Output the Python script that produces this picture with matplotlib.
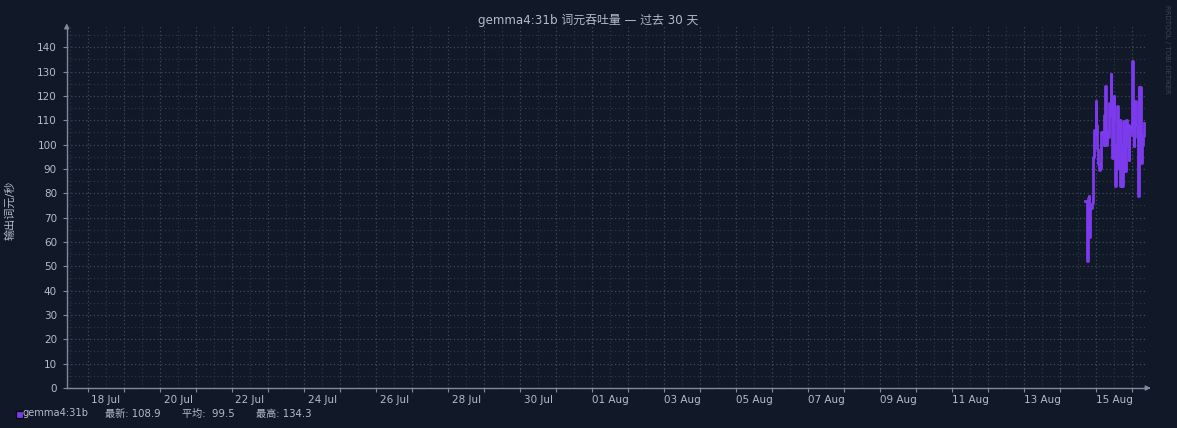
import matplotlib
matplotlib.use("Agg")
import matplotlib.pyplot as plt
import matplotlib.dates as mdates
from matplotlib.ticker import FuncFormatter, MultipleLocator
from matplotlib.patches import Rectangle
import datetime as dt

# ---------------- data ----------------
title = "gemma4:31b 词元吞吐量 — 过去 30 天"
ylabel = "输出词元/秒"
series_name = "gemma4:31b"
stat_labels = ["最新:", "平均:", "最高:"]
stat_values = ["108.9", "99.5", "134.3"]

# hours after 14 Aug 00:00
hours = [16.4, 17.1, 17.8, 18.2, 18.9, 19.3, 19.8, 20.7, 21.3, 21.8, 22.2, 22.9, 23.6,
         24.0, 24.4, 25.1, 25.8, 26.4, 27.1, 27.8, 28.4, 28.9, 29.3, 29.8, 30.2, 30.7,
         31.3, 31.8, 32.2, 32.9, 33.3, 33.8, 34.0, 34.4, 35.1, 35.6, 36.0, 36.4, 36.9,
         37.3, 37.8, 38.2, 38.4, 39.1, 39.6, 40.0, 40.4, 40.9, 41.3, 41.8, 42.2, 42.7,
         43.1, 43.6, 43.8, 44.4, 45.1, 45.6, 46.0, 46.7, 47.1, 47.6, 47.8, 48.2, 48.4,
         48.9, 49.3, 50.0, 50.4, 51.1, 51.6, 51.8, 52.2, 52.7, 53.1, 53.6, 54.0, 54.4,
         54.9, 55.5, 56.0]
values = [76.7, 77.0, 52.0, 78.0, 78.7, 62.0, 75.0, 74.0, 76.0, 95.0, 106.0, 104.0, 117.8,
          108.0, 98.0, 92.0, 89.7, 90.5, 105.0, 104.0, 105.0, 100.0, 112.0, 124.0, 110.0, 100.0,
          105.0, 103.0, 117.0, 112.0, 115.0, 128.8, 118.0, 94.6, 110.0, 120.0, 100.0, 82.8, 95.0,
          90.0, 115.8, 100.0, 90.5, 98.0, 110.0, 82.8, 100.0, 92.0, 82.8, 109.6, 89.0, 100.0,
          89.0, 105.0, 110.0, 100.0, 108.0, 93.8, 107.5, 104.0, 105.0, 120.0, 134.3, 105.0, 110.0,
          99.3, 112.0, 117.8, 108.0, 102.9, 95.0, 78.7, 123.5, 100.0, 123.5, 105.0, 92.6, 100.0,
          103.4, 107.0, 108.9]

x_start = dt.datetime(2025, 7, 17, 9, 48)
x_end = dt.datetime(2025, 8, 16, 9, 48)
label_dates = [dt.date(2025, 7, 18) + dt.timedelta(days=2 * i) for i in range(15)]

# ---------------- style ----------------
BG = "#111827"
GRID_MAJ = "#3e4a5c"
GRID_MIN = "#2c3646"
AXIS = "#7f8a9c"
TXT = "#b4bcc8"
LINE = "#7c3aed"

plt.rcParams['font.family'] = ['DejaVu Sans', 'Noto Sans CJK SC']

W, H = 1177, 428
fig = plt.figure(figsize=(W / 100, H / 100), dpi=100, facecolor=BG)
left, right, top, bottom = 66.7, 1147, 26, 388
ax = fig.add_axes([left / W, 1 - bottom / H, (right - left) / W, (bottom - top) / H])
ax.set_facecolor(BG)

base = dt.datetime(2025, 8, 14)
times = [base + dt.timedelta(hours=h) for h in hours]
ax.plot(times, values, color=LINE, lw=2.0, drawstyle='steps-post', zorder=5)

ax.set_xlim(x_start, x_end)
ax.set_ylim(0, 148.7)

# y grid
ax.yaxis.set_major_locator(MultipleLocator(10))
ax.yaxis.set_minor_locator(MultipleLocator(5))
ax.grid(which='major', axis='y', color=GRID_MAJ, ls=(0, (1, 2)), lw=0.9)
ax.grid(which='minor', axis='y', color=GRID_MIN, ls=(0, (1, 2)), lw=0.9)

# x grid: daily major at midnight, minor at noon (labels on minor)
ax.xaxis.set_major_locator(mdates.DayLocator())
ax.xaxis.set_minor_locator(mdates.HourLocator(byhour=[12]))
ax.xaxis.set_major_formatter(FuncFormatter(lambda v, p: ""))
label_set = {d.strftime("%Y-%m-%d") for d in label_dates}

def minor_fmt(v, p):
    d = mdates.num2date(v)
    key = d.strftime("%Y-%m-%d")
    return d.strftime("%d %b") if key in label_set else ""

ax.xaxis.set_minor_formatter(FuncFormatter(minor_fmt))
ax.grid(which='major', axis='x', color=GRID_MAJ, ls=(0, (1, 2)), lw=0.9)
ax.grid(which='minor', axis='x', color=GRID_MIN, ls=(0, (1, 2)), lw=0.9)

ax.tick_params(axis='x', which='major', length=3, color=AXIS, direction='out')
ax.tick_params(axis='x', which='minor', length=0, pad=5, labelsize=7.5, labelcolor=TXT)
ax.tick_params(axis='y', which='major', length=3, color=AXIS, labelsize=7.5,
               labelcolor=TXT, pad=4)
ax.tick_params(axis='y', which='minor', length=0)

for s in ['top', 'right']:
    ax.spines[s].set_visible(False)
for s in ['left', 'bottom']:
    ax.spines[s].set_color(AXIS)
    ax.spines[s].set_linewidth(1.0)
ax.spines['left'].set_bounds(0, 148.7)

# arrows
ax.annotate("", xy=(0, 1.015), xytext=(0, 0.99), xycoords='axes fraction',
            arrowprops=dict(arrowstyle='-|>', color=AXIS, lw=1, mutation_scale=7),
            annotation_clip=False)
ax.annotate("", xy=(1.006, 0), xytext=(0.998, 0), xycoords='axes fraction',
            arrowprops=dict(arrowstyle='-|>', color=AXIS, lw=1, mutation_scale=7),
            annotation_clip=False)

# texts
fig.text(588 / W, 1 - 20 / H, title, ha='center', va='center', color=TXT, fontsize=8.6)
fig.text(10 / W, 1 - 210 / H, ylabel, ha='center', va='center', rotation=90,
         color=TXT, fontsize=8)
fig.text(1167 / W, 1 - 5 / H, "RRDTOOL / TOBI OETIKER", ha='center', va='top',
         rotation=270, color="#3a4556", fontsize=5)

# legend
fig.patches.append(Rectangle((15.5 / W, 1 - 417.5 / H), 7 / W, 7 / H, transform=fig.transFigure,
                             facecolor=LINE, edgecolor="#05070c", lw=0.9))
fig.text(22.5 / W, 1 - 413.5 / H, series_name, ha='left', va='center', color=TXT, fontsize=7.1)
xs = [105, 182, 256]
for xpos, lab, val in zip(xs, stat_labels, stat_values):
    fig.text(xpos / W, 1 - 413.5 / H, f"{lab} {val:>5}", ha='left', va='center',
             color=TXT, fontsize=7.3)

fig.savefig("out.png", dpi=100, facecolor=BG)
